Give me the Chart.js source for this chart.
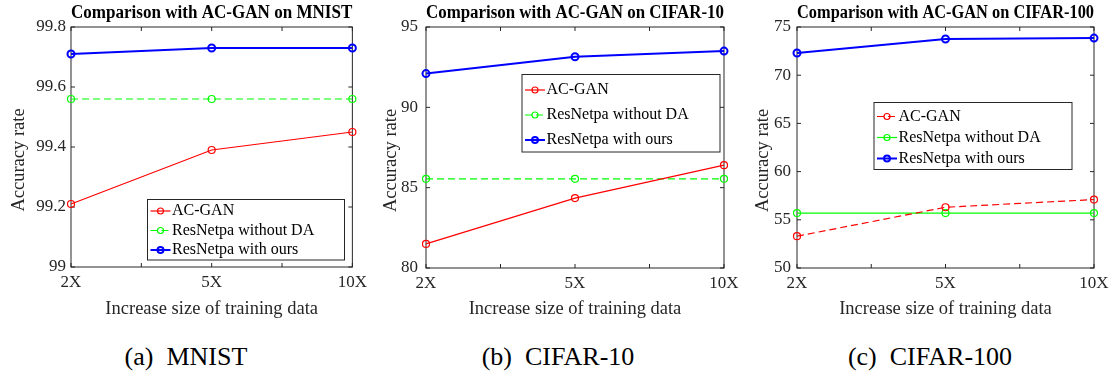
<!DOCTYPE html>
<html>
<head>
<meta charset="utf-8">
<script src="https://cdn.jsdelivr.net/npm/chart.js@4.4.1/dist/chart.umd.min.js"></script>
<style>
  html, body { margin: 0; padding: 0; background: #fff; }
  #fig { position: relative; width: 1116px; height: 374px; }
  .panel { position: absolute; top: 0; width: 372px; height: 320px; }
  .caption { position: absolute; top: 344px; width: 372px; text-align: center;
             font-family: "Liberation Serif", serif; font-size: 26px; line-height: 1; color: #000; }
</style>
</head>
<body>
<div id="fig">
  <div class="panel" style="left:0"><canvas id="mnistChart"></canvas></div>
  <div class="panel" style="left:372px"><canvas id="cifar10Chart"></canvas></div>
  <div class="panel" style="left:744px"><canvas id="cifar100Chart"></canvas></div>
  <div class="caption" style="left:0">(a)&nbsp; MNIST</div>
  <div class="caption" style="left:372px">(b)&nbsp; CIFAR-10</div>
  <div class="caption" style="left:744px">(c)&nbsp; CIFAR-100</div>
</div>
<script>
// training set sizes on the x axis
const sizeLabels = ['2X', '5X', '10X'];
const seriesNames = ['AC-GAN', 'ResNetpa without DA', 'ResNetpa with ours'];

// accuracy (%) per dataset
const mnistAcGan = [99.21, 99.39, 99.45];
const mnistNoDA = [99.56, 99.56, 99.56];
const mnistOurs = [99.71, 99.73, 99.73];

const cifar10AcGan = [81.5, 84.35, 86.4];
const cifar10NoDA = [85.55, 85.55, 85.55];
const cifar10Ours = [92.1, 93.15, 93.5];

const cifar100AcGan = [53.3, 56.3, 57.1];
const cifar100NoDA = [55.7, 55.7, 55.7];
const cifar100Ours = [72.3, 73.75, 73.85];

// y tick values
const mnistTicks = [99, 99.2, 99.4, 99.6, 99.8];
const cifar10Ticks = [80, 85, 90, 95];
const cifar100Ticks = [50, 55, 60, 65, 70, 75];

const AXIS = '#262626';
const SERIF = "'Liberation Serif', serif";

// box around the plot with short inward ticks (incl. minor x ticks)
const matlabFrame = {
    id: 'matlabFrame',
    beforeDatasetsDraw(chart) {
        const { ctx, chartArea: a, scales: { x, y } } = chart;
        const len = 4;
        ctx.save();
        ctx.strokeStyle = AXIS;
        ctx.lineWidth = 1;
        ctx.strokeRect(a.left, a.top, a.right - a.left, a.bottom - a.top);
        ctx.beginPath();
        const xs = [];
        for (let i = 0; i < x.ticks.length; i++) {
            xs.push(x.getPixelForTick(i));
            if (i < x.ticks.length - 1) {
                xs.push((x.getPixelForTick(i) + x.getPixelForTick(i + 1)) / 2);
            }
        }
        xs.forEach(px => {
            ctx.moveTo(px, a.bottom); ctx.lineTo(px, a.bottom - len);
            ctx.moveTo(px, a.top); ctx.lineTo(px, a.top + len);
        });
        y.ticks.forEach(t => {
            const py = y.getPixelForValue(t.value);
            ctx.moveTo(a.left, py); ctx.lineTo(a.left + len, py);
            ctx.moveTo(a.right, py); ctx.lineTo(a.right - len, py);
        });
        ctx.stroke();
        ctx.restore();
    }
};

// rotated y axis label, drawn a bit below the middle of the plot
const yLabel = {
    id: 'yLabel',
    afterDraw(chart, args, opts) {
        const { ctx, chartArea: a } = chart;
        ctx.save();
        ctx.translate(opts.x, (a.top + a.bottom) / 2 + opts.shift);
        ctx.rotate(-Math.PI / 2);
        ctx.font = '18.5px ' + SERIF;
        ctx.fillStyle = AXIS;
        ctx.textAlign = 'center';
        ctx.textBaseline = 'alphabetic';
        ctx.fillText(opts.text, 0, 0);
        ctx.restore();
    }
};

// legend box inside the plot
const boxLegend = {
    id: 'boxLegend',
    afterDatasetsDraw(chart, args, opts) {
        const { ctx } = chart;
        ctx.save();
        ctx.fillStyle = '#fff';
        ctx.fillRect(opts.left, opts.top, opts.width, opts.height);
        ctx.strokeStyle = AXIS;
        ctx.lineWidth = 1;
        ctx.strokeRect(opts.left, opts.top, opts.width, opts.height);
        ctx.font = '16px ' + SERIF;
        ctx.textBaseline = 'middle';
        chart.data.datasets.forEach((ds, i) => {
            const yy = opts.top + opts.firstRow + i * opts.rowGap;
            const x0 = opts.left + 3;
            ctx.strokeStyle = ds.borderColor;
            ctx.lineWidth = ds.borderWidth;
            ctx.setLineDash(ds.borderDash || []);
            ctx.beginPath();
            ctx.moveTo(x0, yy);
            ctx.lineTo(x0 + 20, yy);
            ctx.stroke();
            ctx.setLineDash([]);
            ctx.lineWidth = ds.pointBorderWidth;
            ctx.beginPath();
            ctx.arc(x0 + 10, yy, 3, 0, Math.PI * 2);
            ctx.stroke();
            ctx.fillStyle = '#000';
            ctx.fillText(ds.label, x0 + 21.5, yy);
        });
        ctx.restore();
    }
};

function series(label, values, color, width, dash) {
    return {
        label: label,
        data: values,
        borderColor: color,
        borderWidth: width,
        borderDash: dash,
        pointRadius: 3.5,
        pointBorderWidth: width,
        pointBorderColor: color,
        pointBackgroundColor: 'rgba(255,255,255,0)',
        tension: 0,
        clip: false
    };
}

function makeChart(id, cfg) {
    return new Chart(document.getElementById(id), {
        type: 'line',
        data: {
            labels: sizeLabels,
            datasets: cfg.datasets
        },
        plugins: [matlabFrame, yLabel, boxLegend],
        options: {
            responsive: true,
            maintainAspectRatio: false,
            animation: false,
            layout: { padding: { left: 0, right: cfg.right, top: 0, bottom: 0 } },
            scales: {
                x: {
                    type: 'category',
                    offset: false,
                    grid: { display: false, drawTicks: false },
                    border: { display: false },
                    ticks: {
                        color: AXIS, padding: 5, maxRotation: 0, autoSkip: false,
                        font: { family: SERIF, size: 17 }
                    },
                    title: {
                        display: true, text: 'Increase size of training data', color: AXIS,
                        font: { family: SERIF, size: 18.5 }, padding: { top: 0, bottom: 0 }
                    },
                    afterFit: s => { s.height = 320 - cfg.bottom; }
                },
                y: {
                    min: cfg.ticks[0],
                    max: cfg.ticks[cfg.ticks.length - 1],
                    grid: { display: false, drawTicks: false },
                    border: { display: false },
                    ticks: {
                        color: AXIS, padding: cfg.tickPad,
                        font: { family: SERIF, size: 17 },
                        callback: v => String(v)
                    },
                    afterBuildTicks: s => { s.ticks = cfg.ticks.map(v => ({ value: v })); },
                    afterFit: s => { s.width = cfg.left; }
                }
            },
            plugins: {
                legend: { display: false },
                tooltip: { enabled: false },
                title: {
                    display: true, text: cfg.title, color: '#000', fullSize: false,
                    font: { family: SERIF, size: 18, weight: 'bold' },
                    padding: { top: 2.2, bottom: 3.2 }
                },
                yLabel: { text: 'Accuracy rate', x: 24, shift: 13 },
                boxLegend: cfg.legend
            }
        }
    });
}

makeChart('mnistChart', {
    title: 'Comparison with AC-GAN on MNIST',
    ticks: mnistTicks, left: 71, right: 18, bottom: 267, tickPad: 5,
    legend: { left: 147.5, top: 199.5, width: 197, height: 60.5, firstRow: 11.5, rowGap: 19.5 },
    datasets: [
        series(seriesNames[0], mnistAcGan, '#ff0000', 1.2),
        series(seriesNames[1], mnistNoDA, '#00ff00', 1.2, [7, 4]),
        series(seriesNames[2], mnistOurs, '#0000ff', 2)
    ]
});

makeChart('cifar10Chart', {
    title: 'Comparison with AC-GAN on CIFAR-10',
    ticks: cifar10Ticks, left: 54, right: 20, bottom: 268, tickPad: 8,
    legend: { left: 150, top: 74.5, width: 198, height: 77.5, firstRow: 15.5, rowGap: 25 },
    datasets: [
        series(seriesNames[0], cifar10AcGan, '#ff0000', 1.2),
        series(seriesNames[1], cifar10NoDA, '#00ff00', 1.2, [7, 4]),
        series(seriesNames[2], cifar10Ours, '#0000ff', 2)
    ]
});

makeChart('cifar100Chart', {
    title: 'Comparison with AC-GAN on CIFAR-100',
    ticks: cifar100Ticks, left: 53, right: 22, bottom: 268, tickPad: 6,
    legend: { left: 130, top: 102.5, width: 198, height: 67, firstRow: 14, rowGap: 21 },
    datasets: [
        series(seriesNames[0], cifar100AcGan, '#ff0000', 1.2, [7, 4]),
        series(seriesNames[1], cifar100NoDA, '#00ff00', 1.2),
        series(seriesNames[2], cifar100Ours, '#0000ff', 2)
    ]
});
</script>
</body>
</html>
